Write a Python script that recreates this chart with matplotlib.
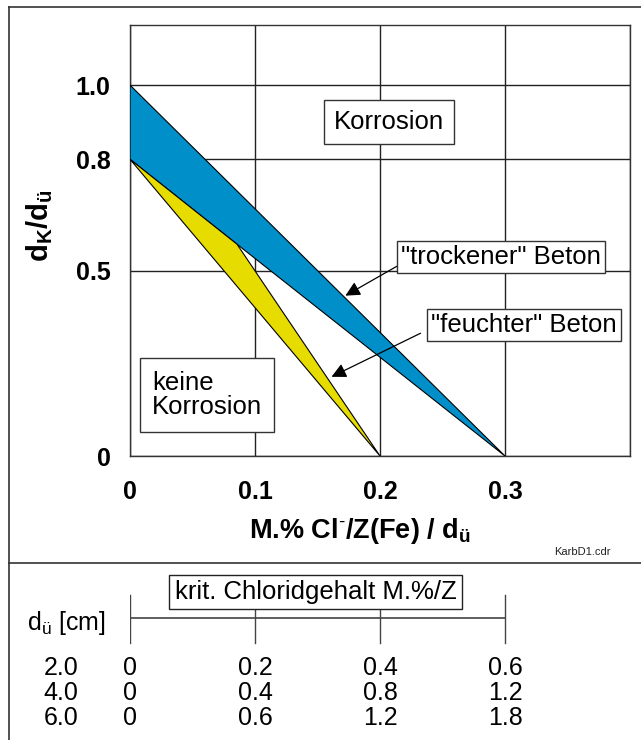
import matplotlib
matplotlib.use('Agg')
import matplotlib.pyplot as plt
from matplotlib.lines import Line2D

plt.rcParams['font.family'] = ['Liberation Sans', 'DejaVu Sans']
plt.rcParams['mathtext.fontset'] = 'custom'
plt.rcParams['mathtext.rm'] = 'Liberation Sans'
plt.rcParams['mathtext.bf'] = 'Liberation Sans:bold'

# bands (x = M.% Cl/Z per cm cover, y = dK/dü)
trocken_x = [0.0, 0.3, 0.0856, 0.0]
trocken_y = [1.0, 0.0, 0.571, 0.8]
feucht_x = [0.0, 0.0856, 0.2]
feucht_y = [0.8, 0.571, 0.0]

x_ticks = [0, 0.1, 0.2, 0.3, 0.4]
x_labels = ['0', '0.1', '0.2', '0.3', '']
y_ticks = [0, 0.5, 0.8, 1.0]
y_labels = ['0', '0.5', '0.8', '1.0']

# lower scale table
scale_ticks = [0, 0.1, 0.2, 0.3]
cover_labels = ['2.0', '4.0', '6.0']
crit_values = [['0', '0.2', '0.4', '0.6'],
               ['0', '0.4', '0.8', '1.2'],
               ['0', '0.6', '1.2', '1.8']]

blue = '#008fc8'
yellow = '#e6dc00'

W, H = 641, 740
fig = plt.figure(figsize=(W / 100, H / 100), dpi=100)

# main chart
ax = fig.add_axes([130 / W, 1 - 456 / H, 500 / W, 431 / H])
ax.set_xlim(0, 0.4)
ax.set_ylim(0, 1.162)
ax.set_xticks(x_ticks)
ax.set_xticklabels(x_labels, fontsize=18, fontweight='bold')
ax.set_yticks(y_ticks)
ax.set_yticklabels(y_labels, fontsize=18, fontweight='bold')
ax.tick_params(length=0)
ax.tick_params(axis='y', pad=14)
ax.tick_params(axis='x', pad=17)
ax.grid(True, color='#222222', lw=1.0)
ax.set_axisbelow(True)
for s in ax.spines.values():
    s.set_color('#333333')
    s.set_linewidth(1.0)

ax.fill(trocken_x, trocken_y, facecolor=blue, edgecolor='black', lw=0.8, zorder=3)
ax.fill(feucht_x, feucht_y, facecolor=yellow, edgecolor='black', lw=0.8, zorder=3)

def px(x, y):
    # pixel in picture -> data of main axes
    return ((x - 130) / 1250.0, (456 - y) / 371.0)

box = dict(boxstyle='square,pad=0.4', facecolor='white', edgecolor='#333333', lw=1.0)
ax.text(*px(389, 122), 'Korrosion', fontsize=18.5, ha='center', va='center',
        bbox=box, zorder=5)
ax.text(*px(501, 257), '"trockener" Beton', fontsize=18.5, ha='center', va='center',
        bbox=dict(box, boxstyle='square,pad=0.15'), zorder=5)
ax.text(*px(524, 325), '"feuchter" Beton', fontsize=18.5, ha='center', va='center',
        bbox=dict(box, boxstyle='square,pad=0.15'), zorder=5)
ax.text(*px(152, 395), 'keine\nKorrosion', fontsize=18.5, ha='left', va='center',
        linespacing=1.02, bbox=dict(box, boxstyle='square,pad=0.48'), zorder=5)

arrow = dict(arrowstyle='-|>', color='black', lw=0.9, mutation_scale=22)
ax.annotate('', xy=px(343, 297), xytext=px(399, 265), arrowprops=arrow, zorder=6)
ax.annotate('', xy=px(329, 378), xytext=px(423, 332), arrowprops=arrow, zorder=6)

fig.text(40 / W, 1 - 226 / H, r'd$_{\mathbf{K}}$/d$_{\mathbf{ü}}$', rotation=90,
         fontsize=21, fontweight='bold', ha='center', va='center')
fig.text(360 / W, 1 - 531 / H, r'M.% Cl$^{\text{-}}$/Z(Fe) / d$_{\mathbf{ü}}$',
         fontsize=19.5, fontweight='bold', ha='center', va='center')
fig.text(582 / W, 1 - 552 / H, 'KarbD1.cdr', fontsize=8, ha='center', va='center',
         color='#222222')

# frame lines
fig.add_artist(Line2D([9 / W, 1], [1 - 7 / H, 1 - 7 / H], color='#333333', lw=1.2))
fig.add_artist(Line2D([9 / W, 9 / W], [0, 1 - 7 / H], color='#333333', lw=1.2))
fig.add_artist(Line2D([9 / W, 1], [1 - 563 / H, 1 - 563 / H], color='#333333', lw=1.2))

# lower scale (y in pixels below divider)
ax2 = fig.add_axes([130 / W, 0, 500 / W, 177 / H])
ax2.set_xlim(0, 0.4)
ax2.set_ylim(177, 0)
ax2.axis('off')
ax2.plot([scale_ticks[0], scale_ticks[-1]], [55, 55], color='#444444', lw=1.2)
for t in scale_ticks:
    ax2.plot([t, t], [32, 80], color='#444444', lw=1.0)
ax2.text(0.1484, 29, 'krit. Chloridgehalt M.%/Z', fontsize=18.5, ha='center', va='center',
         bbox=dict(boxstyle='square,pad=0.2', facecolor='white', edgecolor='#222222', lw=1.0),
         zorder=5)
ax2.text(-0.0824, 60, r'd$_{\mathrm{ü}}$ [cm]', fontsize=18, ha='left', va='center',
         clip_on=False)
for i, (c, row) in enumerate(zip(cover_labels, crit_values)):
    yy = 105 + 25 * i
    ax2.text(-0.0552, yy, c, fontsize=18, ha='center', va='center', clip_on=False)
    for t, v in zip(scale_ticks, row):
        ax2.text(t, yy, v, fontsize=18, ha='center', va='center', clip_on=False)

fig.savefig('out.png', dpi=100)
